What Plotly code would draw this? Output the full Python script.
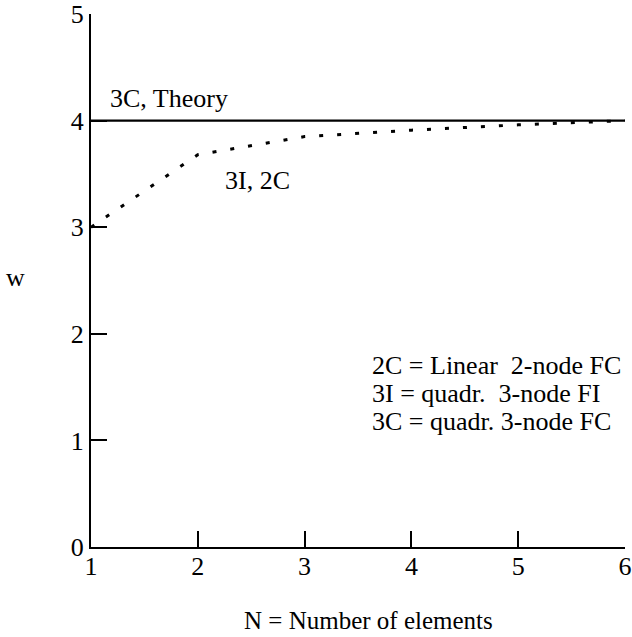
import plotly.graph_objects as go

# Data
n_elements = [1, 2, 3, 4, 5, 6]
w_theory = [4.0, 4.0, 4.0, 4.0, 4.0, 4.0]
w_3i_2c = [3.0, 3.68, 3.85, 3.91, 3.96, 4.0]
x_ticks = [1, 2, 3, 4, 5, 6]
y_ticks = [0, 1, 2, 3, 4, 5]
legend_lines = ["2C = Linear \u00a02-node FC", "3I = quadr. \u00a03-node FI", "3C = quadr. 3-node FC"]

FONT = "Liberation Serif, Times New Roman, serif"
FS = 26

fig = go.Figure()
fig.add_trace(go.Scatter(x=n_elements, y=w_theory, mode="lines",
                         line=dict(color="black", width=2.4), showlegend=False))
fig.add_trace(go.Scatter(x=n_elements, y=w_3i_2c, mode="lines",
                         line=dict(color="black", width=3, dash="4px,14px"), showlegend=False))

tf = dict(family=FONT, size=FS, color="black")
ann = []
ann.append(dict(x=1.16, y=4.21, xref="x", yref="y", text="3C, Theory", showarrow=False,
                xanchor="left", yanchor="middle", font=tf))
ann.append(dict(x=2.24, y=3.44, xref="x", yref="y", text="3I, 2C", showarrow=False,
                xanchor="left", yanchor="middle", font=tf))
leg_y = [1.70, 1.44, 1.18]
for t, yy in zip(legend_lines, leg_y):
    ann.append(dict(x=3.61, y=yy, xref="x", yref="y", text=t, showarrow=False,
                    xanchor="left", yanchor="middle", font=tf))
ann.append(dict(x=0.52, y=-0.137, xref="paper", yref="paper", text="N = Number of elements",
                showarrow=False, xanchor="center", yanchor="middle",
                font=dict(family=FONT, size=25, color="black")))
ann.append(dict(x=-0.142, y=0.505, xref="paper", yref="paper", text="w",
                showarrow=False, xanchor="center", yanchor="middle", font=tf))

fig.update_layout(
    width=632, height=637,
    margin=dict(l=91, r=7, t=14, b=89.5),
    plot_bgcolor="white", paper_bgcolor="white",
    font=tf,
    annotations=ann,
    xaxis=dict(range=[1, 6], tickvals=x_ticks, showgrid=False, zeroline=False,
               showline=True, linecolor="black", linewidth=2, automargin=False,
               ticks="inside", ticklen=16, tickwidth=2, tickcolor="black",
               ticklabelstandoff=-5),
    yaxis=dict(range=[0, 5], tickvals=y_ticks, showgrid=False, zeroline=False,
               showline=True, linecolor="black", linewidth=2, automargin=False,
               ticks="inside", ticklen=16, tickwidth=2, tickcolor="black",
               ticklabelstandoff=0),
)

fig.write_html("out.html", config={"displayModeBar": False},
               post_script="document.body.style.margin='0px';")
